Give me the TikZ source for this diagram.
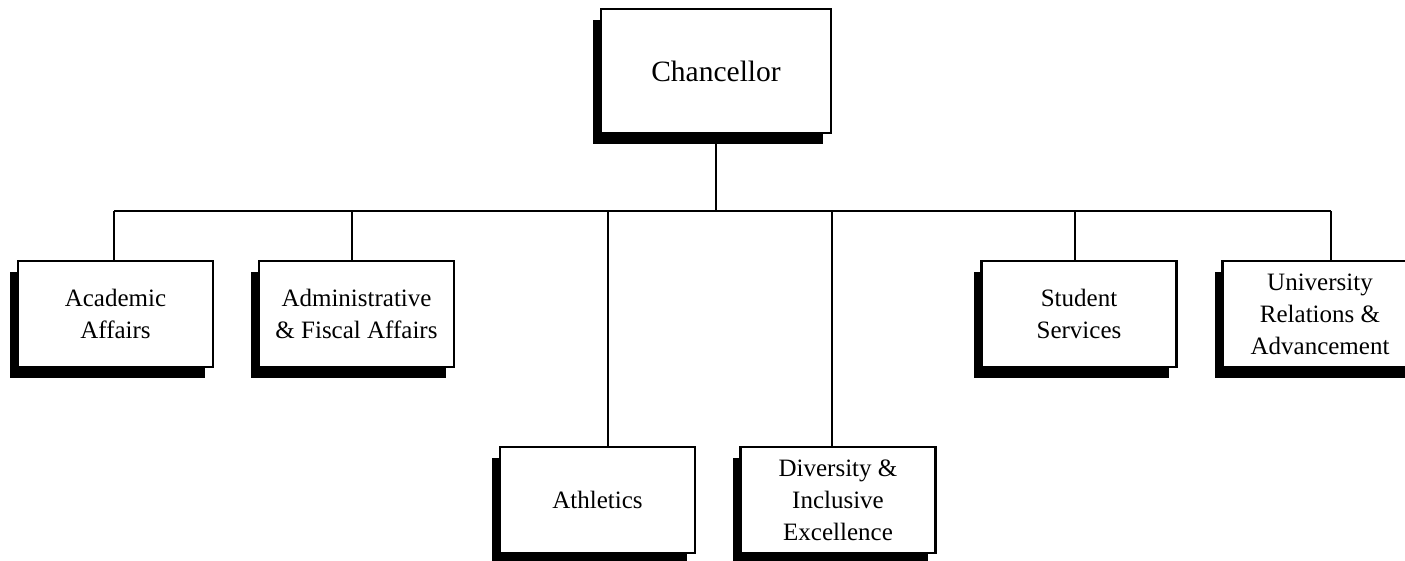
\documentclass[tikz,border=0pt]{standalone}
\usepackage{fontspec}
\setmainfont{Liberation Serif}
\usetikzlibrary{shadows}
\begin{document}
\begin{tikzpicture}[x=1pt,y=-1pt,line width=2.5pt,
    office/.style={draw,fill=white,align=center,inner sep=0pt,outer sep=0pt,
      minimum width=195pt,minimum height=106pt,
      font=\fontsize{25}{32}\selectfont,
      drop shadow={shadow xshift=-8pt,shadow yshift=-11pt,fill=black,opacity=1}},
    head/.style={office,minimum width=230pt,minimum height=124pt,
      font=\fontsize{29.5}{34}\selectfont}]
  \useasboundingbox (0,0) rectangle (1405,560);

  % vertice
  \node[head] (chan) at (716,71) {Chancellor};

  % uffici
  \node[office] (acad) at (115.5,314) {Academic\\Affairs};
  \node[office] (admin) at (356.5,314) {Administrative\\\& Fiscal Affairs};
  \node[office] (ath) at (597.5,500) {Athletics};
  \node[office] (div) at (838,500) {Diversity \&\\Inclusive\\Excellence};
  \node[office] (stud) at (1079,314) {Student\\Services};
  \node[office] (univ) at (1320,314) {University\\Relations \&\\Advancement};

  % linea orizzontale
  \coordinate (busL) at (114,211);
  \coordinate (busR) at (1331,211);
  \draw (busL) -- (busR);
  \draw (chan.south) -- (chan.south |- busL);

  % collegamenti
  \draw (busL) -- (busL |- acad.north);
  \coordinate (tapAdmin) at (352,211);
  \draw (tapAdmin) -- (tapAdmin |- admin.north);
  \coordinate (tapAth) at (608,211);
  \draw (tapAth) -- (tapAth |- ath.north);
  \coordinate (tapDiv) at (832,211);
  \draw (tapDiv) -- (tapDiv |- div.north);
  \coordinate (tapStud) at (1075,211);
  \draw (tapStud) -- (tapStud |- stud.north);
  \draw (busR) -- (busR |- univ.north);
\end{tikzpicture}
\end{document}
